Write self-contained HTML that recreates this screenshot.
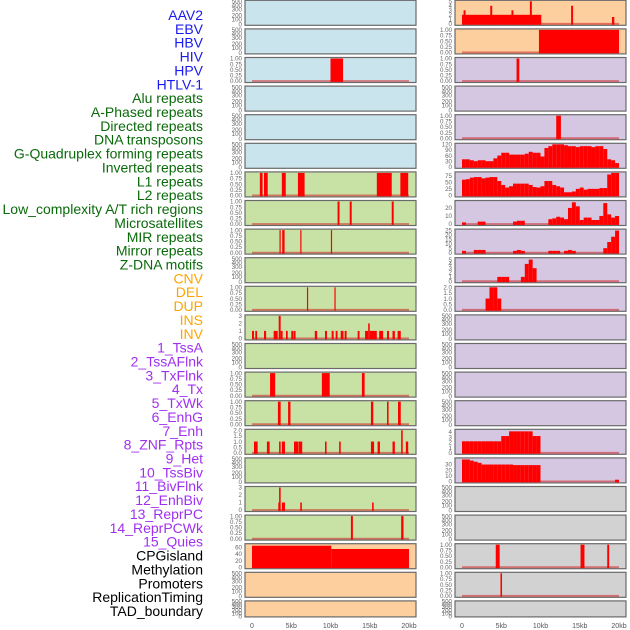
<!DOCTYPE html>
<html><head><meta charset="utf-8"><style>
html,body{margin:0;padding:0;background:#fff;}
svg{display:block;font-family:"Liberation Sans",sans-serif;}
</style></head><body>
<svg id="chart" width="630" height="630" viewBox="0 0 630 630" xmlns="http://www.w3.org/2000/svg"></svg>
<script>
const NS="http://www.w3.org/2000/svg";
const svg=document.getElementById('chart');
// ---- data ----
const trackLabels=["AAV2","EBV","HBV","HIV","HPV","HTLV-1","Alu repeats","A-Phased repeats","Directed repeats","DNA transposons","G-Quadruplex forming repeats","Inverted repeats","L1 repeats","L2 repeats","Low_complexity A/T rich regions","Microsatellites","MIR repeats","Mirror repeats","Z-DNA motifs","CNV","DEL","DUP","INS","INV","1_TssA","2_TssAFlnk","3_TxFlnk","4_Tx","5_TxWk","6_EnhG","7_Enh","8_ZNF_Rpts","9_Het","10_TssBiv","11_BivFlnk","12_EnhBiv","13_ReprPC","14_ReprPCWk","15_Quies","CPGisland","Methylation","Promoters","ReplicationTiming","TAD_boundary"];
const labelGroups=[6,13,5,15,5];
const groupColors=["#1a1aee","#0a6a0a","#ffa500","#a030f0","#000000"];
const xTicks=[0,5,10,15,20];
const xTickLabels=["0","5kb","10kb","15kb","20kb"];
const bgLeft=["b","b","b","b","b","b","g","g","g","g","g","g","g","g","g","g","g","g","g","o","o","o"];
const bgRight=["o","o","p","p","p","p","p","p","p","p","p","p","p","p","p","p","p","y","y","y","y","y"];
// bars: [startKb, endKb, value]
const leftBars={
 2:[[10.0,11.6,1]],
 6:[[1.0,1.35,1],[1.53,2.0,1],[3.8,4.3,1],[5.85,6.7,1],[15.9,17.8,1],[18.9,19.9,1]],
 7:[[10.9,11.15,1],[12.45,12.7,1],[17.8,18.05,1]],
 8:[[3.5,3.65,1],[3.85,4.15,1],[6.15,6.3,1],[10.05,10.2,1]],
 10:[[7.0,7.15,1],[10.5,10.65,1]],
 11:[[0,0.25,1],[0.42,0.65,1],[1.53,1.8,1],[2.76,3.27,1],[3.4,3.65,3],[3.65,3.9,1],[4.33,4.55,1],[5.0,5.25,1],[5.3,5.55,1],[8.0,8.3,1],[9.3,9.55,1],[10.15,10.4,1],[10.66,10.9,1],[11.3,11.65,1],[11.8,12.05,1],[13.46,13.7,1],[14.4,14.8,1],[14.8,15.0,2],[15.0,15.16,1],[15.16,15.9,1],[16.2,16.7,1],[17.2,17.45,1],[17.9,18.2,1],[18.55,18.95,1]],
 13:[[2.3,2.95,1],[8.9,9.9,1],[14.0,14.35,1]],
 14:[[3.3,3.65,1],[4.6,4.9,1],[15.15,15.45,1],[17.2,17.4,1],[18.6,18.95,1]],
 15:[[0.25,0.72,1],[1.9,2.25,1],[3.45,3.65,1],[3.8,4.2,1],[5.35,5.9,1],[5.95,6.4,1],[9.3,9.5,1],[11.1,11.3,1],[15.15,15.55,1],[16.0,16.3,1],[17.9,18.2,1],[19.0,19.2,2],[19.6,19.9,1]],
 17:[[3.35,3.45,1],[3.45,3.65,3],[3.8,4.2,1],[6.15,6.35,1],[15.3,15.5,1]],
 18:[[12.6,12.85,1],[19.0,19.3,1]],
 19:[[0,10.1,65],[10.1,20,55]]
};
const rightBars={
 0:[[0,10.1,2],[0.2,0.45,3],[3.6,3.85,4],[6.3,6.55,3],[8.65,8.9,5],[13.9,14.15,4],[19.1,19.4,1.5]],
 1:[[9.8,20,1]],
 2:[[6.95,7.3,1]],
 4:[[12.0,12.6,1]],
 19:[[4.3,4.8,1],[15.1,15.6,1],[18.5,18.75,1]],
 20:[[4.9,5.1,1]]
};
// binned series (0.5kb bins, 40 bins)
const gquadBins=[40,40,35,30,35,35,30,30,45,60,75,75,65,65,65,65,70,80,75,75,55,100,110,120,120,120,115,110,110,105,110,110,110,105,110,110,95,40,35,20];
const l1Bins=[60,62,68,70,70,65,68,70,70,55,40,30,35,45,45,45,45,40,32,30,35,55,55,40,35,30,12,12,15,25,30,22,25,25,25,28,28,80,88,88];
const lowcBins=[2,0,0,0,3,3,0,0,0,0,0,0,0,3,4,4,0,0,0,0,0,0,6,7,9,8,6,20,27,22,5,8,8,5,5,10,26,12,8,10];
const microBins=[2,0,0,3,3,3,0,0,0,0,0,0,0,2,3,2,0,0,0,0,0,0,2,2,2,0,2,3,2,0,0,0,0,0,0,0,5,12,18,25];
const mirrorBins=[0,0,0,0,0,0,0,0,0,1,1,1,0,0,0,1,4,5,3,0,0,0,0,0,0,0,0,0,0,0,0,0,0,0,0,0,0,0,0,0];
const dupBins=[0,0,0,0,0,0,1,2,2,1,0,0,0,0,0,0,0,0,0,0,0,0,0,0,0,0,0,0,0,0,0,0,0,0,0,0,0,0,0,0];
const znfBins=[2.2,2.2,2.2,2.2,2.2,2.2,2.2,2.2,2.2,2.2,3.2,3.2,4.1,4.1,4.1,4.1,4.1,4.1,3.2,3.2,0,0,0,0,0,0,0,0,0,0,0,0,0,0,0,0,0,0,0,0];
const tssbivBins=[39,39,37,35,33,30,30,30,30,30,30,30,30,29,29,29,29,29,29,29,0,0,0,0,0,0,0,0,0,0,0,0,0,0,0,0,0,0,0,3];
const rightBinned={5:[gquadBins,120],6:[l1Bins,86],7:[lowcBins,28],8:[microBins,25.5],9:[mirrorBins,5.2],10:[dupBins,2.0],15:[znfBins,4.3],16:[tssbivBins,40]};
// y tick labels per panel
const T_EMPTY=["0","100","200","300","400","500"];
const T_BIN=["0.00","0.25","0.50","0.75","1.00"];
const leftTicks={2:[T_BIN,1],6:[T_BIN,1],7:[T_BIN,1],8:[T_BIN,1],10:[T_BIN,1],11:[["0","1","2","3"],3],13:[T_BIN,1],14:[T_BIN,1],15:[["0.0","0.5","1.0","1.5","2.0"],2],17:[["0","1","2","3"],3],18:[T_BIN,1],19:[["0","20","40","60"],68]};
const rightTicks={0:[["0","1","2","3","4","5"],5],1:[T_BIN,1],2:[T_BIN,1],4:[T_BIN,1],5:[["0","30","60","90","120"],120],6:[["0","25","50","75"],86],7:[["0","10","20"],28],8:[["0","5","10","15","20","25"],25.5],9:[["0","1","2","3","4","5"],5.2],10:[["0.0","0.5","1.0","1.5","2.0"],2],15:[["0","1","2","3","4"],4.3],16:[["0","10","20","30"],40],19:[T_BIN,1],20:[T_BIN,1]};
// ---- layout ----
const colors={b:"#c9e4ec",g:"#c8e2a6",o:"#fecf9e",p:"#d5c7e2",y:"#d2d2d2"};
const cols=[{x:245,w:171,x0:252,x1:409},{x:455,w:171,x0:462,x1:619}];
const rowTop=i=>0.3+28.6*i;
const rowH=i=>i===21?16:25;
const emptyFrac=[0.04,0.24,0.4,0.64,0.8,0.96]; // fraction from bottom for empty-panel ticks
function mk(tag,attrs,parent){const e=document.createElementNS(NS,tag);for(const k in attrs)e.setAttribute(k,attrs[k]);(parent||svg).appendChild(e);return e;}
function xScale(c,kb){return c.x0+(c.x1-c.x0)*kb/20;}
function drawPanel(ci,r,bg,ticks,bars,binned){
  const c=cols[ci];const top=rowTop(r),h=rowH(r);
  const g=mk('g',{});
  
  
  const rect=mk('rect',{x:c.x,y:top,width:c.w,height:h,fill:colors[bg],stroke:"#6a6a6a","stroke-width":1.2},g);
  
  
  const yb=top+h-1.5,yt=top+1;
  let labels,max;
  if(ticks){labels=ticks[0];max=ticks[1];}else{labels=T_EMPTY;max=500;}
  const ys=v=>yb-(yb-yt)*v/max;
  labels.forEach((lab,i)=>{
    let y;
    if(!ticks){y=top+h*(1-emptyFrac[i]);}else{y=ys(parseFloat(lab));}
    const t=mk('text',{x:c.x-3,y:y+2.2,"font-size":6.2,fill:"#666","text-anchor":"end"},g);
    t.textContent=lab;
    
    
  });
  if(!ticks)return;
  const base=mk('line',{x1:xScale(c,0),x2:xScale(c,20),y1:yb,y2:yb,stroke:"rgba(210,30,30,0.55)","stroke-width":1.8},g);
  
  
  const all=[];
  if(bars)bars.forEach(b=>all.push(b));
  if(binned)binned[0].forEach((v,i)=>{if(v>0)all.push([i*0.5,i*0.5+0.5,v]);});
  all.forEach(b=>{
    const x1=xScale(c,b[0]),x2=xScale(c,b[1]);const y=ys(Math.min(b[2],max));
    const br=mk('rect',{x:x1,y:y,width:Math.max(x2-x1,1.2),height:yb-y+0.9,fill:"#ff0000"},g);
    
    
  });
}
for(let r=0;r<22;r++){
  drawPanel(0,r,bgLeft[r],leftTicks[r],leftBars[r],null);
  drawPanel(1,r,bgRight[r],rightTicks[r],rightBars[r],rightBinned[r]);
}
// track labels
let li=0;
labelGroups.forEach((n,gi)=>{for(let k=0;k<n;k++){
  const t=mk('text',{x:203,y:20+13.86*li,"font-size":14,fill:groupColors[gi],"text-anchor":"end"});
  t.textContent=trackLabels[li];
  
  
  li++;}});
// x axes
cols.forEach((c,ci)=>{xTicks.forEach((v,i)=>{
  const t=mk('text',{x:xScale(c,v),y:628,"font-size":7,fill:"#555","text-anchor":"middle"});
  t.textContent=xTickLabels[i];
  
  
});});
</script>
</body></html>
